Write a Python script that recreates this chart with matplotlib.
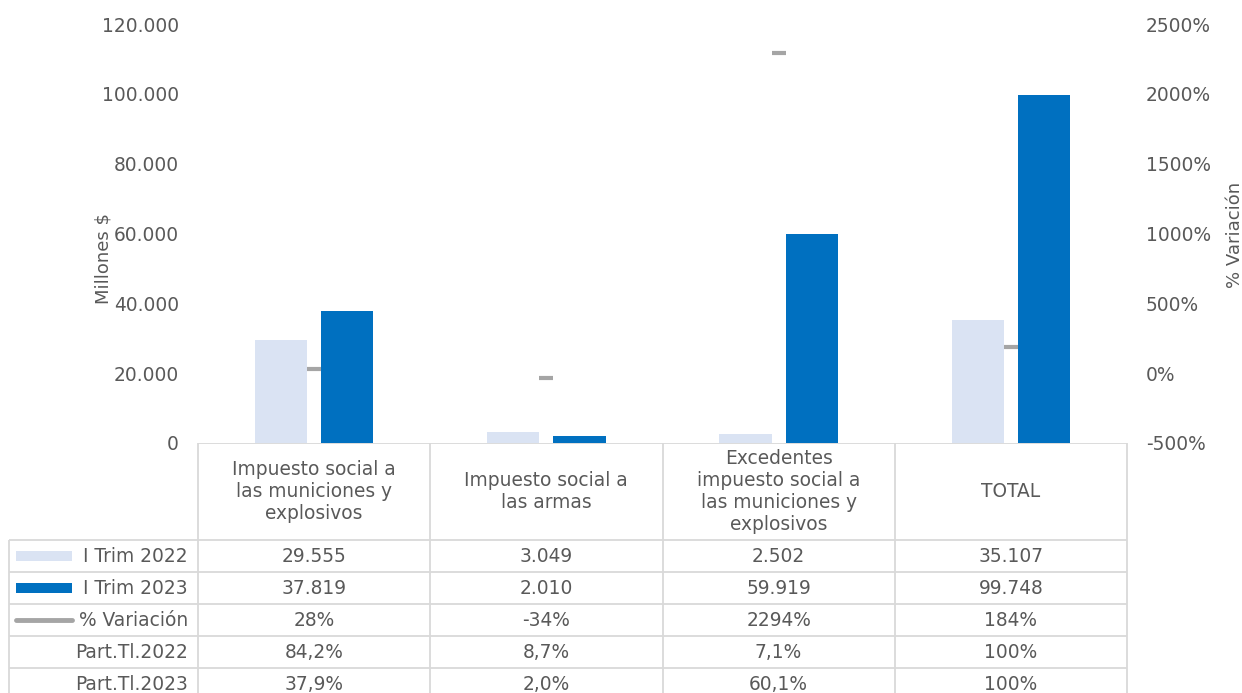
import matplotlib.pyplot as plt
import numpy as np
from matplotlib.ticker import FuncFormatter

categorias = ["Impuesto social a\nlas municiones y\nexplosivos",
              "Impuesto social a\nlas armas",
              "Excedentes\nimpuesto social a\nlas municiones y\nexplosivos",
              "TOTAL"]
trim_2022 = [29555, 3049, 2502, 35107]
trim_2023 = [37819, 2010, 59919, 99748]
variacion = [28, -34, 2294, 184]
part_2022 = ["84,2%", "8,7%", "7,1%", "100%"]
part_2023 = ["37,9%", "2,0%", "60,1%", "100%"]
filas = ["I Trim 2022", "I Trim 2023", "% Variación", "Part.Tl.2022", "Part.Tl.2023"]

c_claro = "#DAE3F3"
c_oscuro = "#0070C0"
c_gris = "#A5A5A5"
c_texto = "#595959"
c_borde = "#D9D9D9"
fs = 13.4

plt.rcParams['font.family'] = ['DejaVu Sans']

W, H = 1242, 693
def fx(px):
    return px / W
def fy(py):
    return 1 - py / H

fig = plt.figure(figsize=(W / 100, H / 100), dpi=100)

# grafico principal
ax = fig.add_axes([fx(198), fy(443), fx(1127) - fx(198), fy(24) - fy(443)])
x = np.arange(len(categorias))
ax.bar(x - 0.143, trim_2022, width=0.225, color=c_claro)
ax.bar(x + 0.143, trim_2023, width=0.225, color=c_oscuro)
ax.set_xlim(-0.5, 3.5)
ax.set_ylim(0, 120000)
ax.set_yticks(np.arange(0, 120001, 20000))
ax.yaxis.set_major_formatter(FuncFormatter(lambda v, p: f"{int(v):,}".replace(",", ".")))
ax.set_xticks([])
ax.tick_params(axis='y', length=0, pad=13.7, labelsize=fs, labelcolor=c_texto)
for s in ax.spines.values():
    s.set_visible(False)
ax.set_ylabel("Millones $", fontsize=13, color=c_texto, va='center')
ax.yaxis.set_label_coords(-0.102, 0.44)

ax2 = ax.twinx()
ax2.plot(x, variacion, linestyle='none', marker='_', markersize=10, mew=3, color=c_gris)
ax2.set_ylim(-500, 2500)
ax2.set_yticks(np.arange(-500, 2501, 500))
ax2.yaxis.set_major_formatter(FuncFormatter(lambda v, p: f"{int(v)}%"))
ax2.tick_params(axis='y', length=0, pad=13.7, labelsize=fs, labelcolor=c_texto)
for s in ax2.spines.values():
    s.set_visible(False)
ax2.set_ylabel("% Variación", fontsize=13, color=c_texto, va='center')
ax2.yaxis.set_label_coords(1.116, 0.496)

# tabla de datos
tab = fig.add_axes([fx(8), fy(700), fx(1128) - fx(8), fy(443) - fy(700)])
xl = -0.5 - (198 - 9) / 232.25
tab.set_xlim(-0.5 - (198 - 8) / 232.25, 3.5 + 1 / 232.25)
tab.set_ylim(257, 0)
tab.axis('off')

lw = 1.3
tab.hlines(0, -0.5, 3.5, color=c_borde, lw=lw)
bordes_y = [97, 129, 161, 193, 225, 257]
tab.hlines(bordes_y, xl, 3.5, color=c_borde, lw=lw)
tab.vlines(np.arange(-0.5, 4, 1), 0, 257, color=c_borde, lw=lw)
tab.vlines(xl, 97, 257, color=c_borde, lw=lw)

for i, c in enumerate(categorias):
    tab.text(i, 48.5, c, ha='center', va='center', fontsize=fs, color=c_texto, linespacing=1.2)

valores = [
    [f"{v:,}".replace(",", ".") for v in trim_2022],
    [f"{v:,}".replace(",", ".") for v in trim_2023],
    [f"{v}%" for v in variacion],
    part_2022,
    part_2023,
]
centros_y = [113, 145, 177, 209, 241]
x_lab = -0.5 - 10 / 232.25
for fila, yc, vals in zip(filas, centros_y, valores):
    tab.text(x_lab, yc, fila, ha='right', va='center', fontsize=fs, color=c_texto)
    for i, v in enumerate(vals):
        tab.text(i, yc, v, ha='center', va='center', fontsize=fs, color=c_texto)

# claves de leyenda
k0 = -0.5 - (198 - 16) / 232.25
k1 = -0.5 - (198 - 72) / 232.25
tab.fill_between([k0, k1], 108, 118, color=c_claro, lw=0)
tab.fill_between([k0, k1], 140, 150, color=c_oscuro, lw=0)
tab.plot([k0, k1], [177, 177], color=c_gris, lw=3.5, solid_capstyle='round')

fig.savefig("out.png", dpi=100)
